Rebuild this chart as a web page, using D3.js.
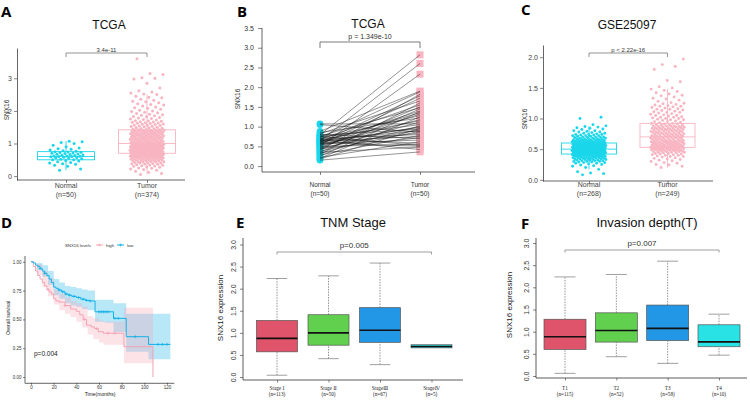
<!DOCTYPE html>
<html><head><meta charset="utf-8">
<script src="https://cdn.jsdelivr.net/npm/d3@7/dist/d3.min.js"></script>
<style>body{margin:0;background:#fff}svg{display:block}</style>
</head><body><svg id="chart" width="750" height="400"></svg>
<script>
// ---------------- DATA ----------------
const groupCats = ["Normal","Tumor"];
const aCounts = ["(n=50)","(n=374)"];
const aTicks = [0,1,2,3];
const aNormal = [.18,.22,.3,.33,.36,.38,.4,.42,.44,.46,.48,.5,.5,.52,.53,.55,.56,.57,.58,.59,.6,.6,.61,.62,.62,.63,.64,.65,.66,.67,.68,.69,.7,.71,.72,.73,.74,.75,.76,.78,.8,.82,.84,.86,.9,.95,1.0,1.03,1.05,1.07];
const aTumor = [.05,.08,.12,.15,.18,.2,.22,.24,.25,.27,.28,.3,.31,.32,.33,.34,.35,.36,.37,.38,.39,.4,.4,.41,.42,.43,.43,.44,.45,.45,.46,.47,.47,.48,.48,.49,.5,.5,.51,.51,.52,.52,.53,.53,.54,.54,.55,.55,.56,.56,.57,.57,.58,.58,.58,.59,.59,.6,.6,.6,.61,.61,.62,.62,.62,.63,.63,.63,.64,.64,.64,.65,.65,.65,.66,.66,.66,.67,.67,.67,.68,.68,.68,.68,.69,.69,.69,.69,.7,.7,
.7,.71,.71,.72,.72,.72,.73,.73,.73,.74,.74,.74,.75,.75,.75,.76,.76,.76,.77,.77,.77,.78,.78,.78,.79,.79,.79,.8,.8,.8,.81,.81,.81,.82,.82,.82,.83,.83,.83,.84,.84,.84,.85,.85,.85,.86,.86,.86,.87,.87,.87,.88,.88,.88,.89,.89,.89,.9,.9,.9,.91,.91,.91,.92,.92,.92,.93,.93,.93,.94,.94,.94,.95,.95,.95,.96,.96,.96,.97,.97,.97,.98,.98,.98,.99,.99,.99,1,1,1,
1.01,1.01,1.02,1.02,1.03,1.03,1.04,1.04,1.05,1.05,1.06,1.06,1.07,1.07,1.08,1.08,1.09,1.09,1.1,1.1,1.11,1.11,1.12,1.12,1.13,1.13,1.14,1.14,1.15,1.15,1.16,1.16,1.17,1.17,1.18,1.18,1.19,1.19,1.2,1.2,1.21,1.21,1.22,1.22,1.23,1.23,1.24,1.24,1.25,1.25,1.26,1.26,1.27,1.27,1.28,1.28,1.29,1.29,1.3,1.3,1.31,1.31,1.32,1.32,1.33,1.33,1.34,1.34,1.35,1.35,1.36,1.36,1.37,1.37,1.38,1.38,1.39,1.39,1.4,1.4,1.41,1.41,1.42,1.42,
1.43,1.44,1.45,1.46,1.47,1.48,1.49,1.5,1.51,1.52,1.53,1.54,1.55,1.56,1.57,1.58,1.59,1.6,1.61,1.62,1.63,1.64,1.65,1.66,1.67,1.68,1.69,1.7,1.72,1.74,1.75,1.77,1.78,1.8,1.82,1.83,1.85,1.87,1.88,1.9,1.92,1.94,1.96,1.98,2.0,2.02,2.05,2.08,2.1,2.12,2.15,2.18,2.2,2.22,2.25,2.28,2.3,2.33,2.36,2.4,2.42,2.45,2.5,2.52,2.55,2.58,2.62,2.7,2.85,2.98,3.0,3.02,3.12,3.15,3.6];
// box stats: [lower whisker, Q1, median, Q3, upper whisker]
const aStats = [[.18,.5,.6,.75,1.07],[.05,.7,1.0,1.42,2.5]];

const bCounts = ["(n=50)","(n=50)"];
const bTicks = [0,0.5,1,1.5,2,2.5,3,3.5];
const bNormal = [.79,.64,.50,.88,.72,.40,.60,.55,.82,.30,.68,.45,.76,.35,.58,.25,.62,.48,.70,.20,.85,.52,.66,.42,1.07,.74,.32,.56,.61,.18,.78,.46,.65,.38,1.05,.54,.70,.28,.63,.44,.80,.57,.22,.68,.50,.75,.60,.35,.66,.15];
const bTumor  = [2.82,2.60,2.33,1.90,1.88,1.82,1.78,1.72,1.65,1.60,1.55,1.50,1.48,1.45,1.40,1.38,1.35,1.32,1.28,1.25,1.22,1.18,1.15,1.12,1.07,1.05,1.02,1.00,.98,.96,.94,.92,.90,.88,.86,.84,.80,.78,.75,.72,.70,.66,.62,.58,.55,.52,.50,.48,.42,.36];

const cCounts = ["(n=268)","(n=249)"];
const cTicks = [0,0.5,1,1.5,2];
const cNormal = [.08,.1,.11,.13,.17,.2,.22,.23,.24,.25,.26,.27,.27,.28,.28,.29,.29,.3,.3,.3,.31,.31,.31,.32,.32,.32,.33,.33,.33,.34,.34,.34,.34,.35,.35,.35,.35,.36,.36,.36,.36,.37,.37,.37,.37,.38,.38,.38,.38,.38,.39,.39,.39,.39,.39,.4,.4,.4,.4,.4,.41,.41,.41,.41,.41,.42,.42,
.42,.42,.43,.43,.43,.43,.43,.43,.43,.43,.44,.44,.44,.44,.44,.44,.44,.44,.45,.45,.45,.45,.45,.45,.45,.45,.46,.46,.46,.46,.46,.46,.46,.46,.47,.47,.47,.47,.47,.47,.47,.47,.48,.48,.48,.48,.48,.48,.48,.48,.49,.49,.49,.49,.49,.49,.49,.49,.5,.5,.5,.5,.5,
.51,.51,.51,.51,.51,.51,.51,.52,.52,.52,.52,.52,.52,.52,.53,.53,.53,.53,.53,.53,.53,.54,.54,.54,.54,.54,.54,.54,.55,.55,.55,.55,.55,.55,.55,.56,.56,.56,.56,.56,.56,.56,.57,.57,.57,.57,.57,.57,.57,.58,.58,.58,.58,.58,.58,.59,.59,.59,.59,.59,.59,.6,.6,.6,.6,.6,.6,
.61,.61,.61,.61,.61,.62,.62,.62,.62,.62,.63,.63,.63,.63,.64,.64,.64,.64,.65,.65,.65,.65,.66,.66,.66,.66,.67,.67,.67,.68,.68,.68,.69,.69,.69,.7,.7,.7,.71,.71,.72,.72,.72,.73,.73,.74,.74,.74,.75,.76,.76,.77,.78,.78,.79,.8,.8,.82,.83,.84,.85,.86,.87,.88,.9,1.0,1.02];
const cTumor = [.2,.22,.24,.25,.27,.28,.3,.31,.32,.33,.34,.35,.36,.37,.38,.38,.39,.4,.4,.41,.41,.42,.42,.43,.43,.44,.44,.45,.45,.45,.46,.46,.46,.47,.47,.47,.48,.48,.48,.48,.49,.49,.49,.49,.5,.5,.5,.5,.51,.51,.51,.51,.52,.52,.52,.52,.53,.53,.53,.53,.53,.53,
.54,.54,.54,.54,.55,.55,.55,.55,.56,.56,.56,.56,.57,.57,.57,.57,.58,.58,.58,.58,.59,.59,.59,.59,.6,.6,.6,.6,.61,.61,.61,.61,.62,.62,.62,.62,.63,.63,.63,.63,.64,.64,.64,.65,.65,.65,.66,.66,.66,.67,.67,.67,.68,.68,.68,.69,.69,.69,.7,.7,.7,.7,
.71,.71,.71,.72,.72,.72,.73,.73,.73,.74,.74,.74,.75,.75,.75,.76,.76,.76,.77,.77,.77,.78,.78,.78,.79,.79,.79,.8,.8,.8,.81,.81,.81,.82,.82,.82,.83,.83,.83,.84,.84,.84,.85,.85,.85,.86,.86,.86,.87,.87,.87,.88,.88,.88,.89,.89,.9,.9,.91,.91,.92,.92,
.93,.94,.95,.95,.96,.97,.98,.98,.99,1,1,1.01,1.02,1.02,1.03,1.04,1.05,1.05,1.06,1.07,1.08,1.09,1.1,1.1,1.11,1.12,1.13,1.14,1.15,1.15,1.16,1.17,1.18,1.19,1.2,1.2,1.21,1.22,1.23,1.24,1.25,1.26,1.28,1.3,1.32,1.33,1.35,1.37,1.38,1.4,1.42,1.44,1.46,1.48,1.5,1.52,1.6,1.62,1.8,1.85,1.88,1.97];
const cStats = [[.17,.42,.5,.6,.87],[.2,.53,.7,.92,1.48]];

// Kaplan-Meier (D)
const dGroups = ["high","low"];
const dTimeTicks = [0,20,40,60,80,100,120];
const dSurvTicks = [0,0.25,0.5,0.75,1];
const kmHighT = [0,2,4,6,8,10,12,14,16,18,20,22,25,30,35,40,43,46,49,53,56,59.4,63.8,82,107.6,107.6];
const kmHighS = [1,.96,.92,.88,.85,.82,.79,.76,.74,.72,.68,.66,.65,.62,.59,.57,.54,.50,.45,.435,.42,.393,.38,.263,0,0];
const kmLowT = [0,2,4,6,8,10,12,14,16,18,20,22,24,27,30,33,36,40,44,48,52,56.5,72.8,84,103.7,123];
const kmLowS = [1,.99,.97,.96,.94,.92,.90,.88,.85,.82,.78,.77,.755,.74,.72,.71,.70,.69,.675,.665,.66,.566,.509,.35,.283,.283];
const bandHighT = [0,5,10,15,20,25,30,35,40,45,50,55,60,64,82,107.6];
const bandHighLo = [1,.88,.78,.70,.63,.58,.55,.52,.48,.43,.37,.33,.30,.28,.12,.12];
const bandHighHi = [1,.98,.92,.86,.76,.72,.69,.66,.64,.61,.53,.51,.49,.48,.60,.60];
const bandLowT = [0,5,10,15,20,25,30,35,40,45,50,56.5,65,72.8,84,103.7,123];
const bandLowLo = [1,.93,.87,.80,.71,.68,.64,.62,.61,.59,.58,.48,.47,.39,.22,.155,.155];
const bandLowHi = [1,.99,.97,.92,.85,.82,.79,.78,.77,.76,.75,.67,.67,.64,.55,.55,.55];
const censorLow = [8,12,25,28,31,34,38,42,46,49,52,60,62,64,66,68,74,77,92,112,116,120];
const censorHigh = [15,30,47,58,68,74];

// TNM stage (E)
const eCats = ["Stage Ⅰ","Stage Ⅱ","StageⅢ","StageⅣ"];
const eCounts = ["(n=113)","(n=50)","(n=67)","(n=5)"];
const eStats = [[.04,.57,.875,1.28,2.23],[.415,.72,1.0,1.41,2.29],[.28,.785,1.06,1.57,2.58],[.66,.66,.69,.73,.73]];
// Invasion depth (F)
const fCats = ["T1","T2","T3","T4"];
const fCounts = ["(n=115)","(n=52)","(n=58)","(n=10)"];
const fStats = [[.06,.6,.885,1.28,2.235],[.435,.765,1.027,1.425,2.29],[.285,.8,1.074,1.6,2.59],[.47,.66,.77,1.155,1.395]];
const efTicks = [0,0.5,1,1.5,2,2.5,3];

// ---------------- DRAWING ----------------
const svg = d3.select("#chart");
const FONT = "'Liberation Sans', Arial, sans-serif";
const CYAN = "#1ad6ea", PINK = "#f8b4c0";
const BOXCOLS = ["#DF536B","#61D04F","#2297E6","#28E2E5"];

function label(g, x, y, s, size, opt = {}) {
  const t = g.append("text").attr("x", x).attr("y", y).text(s)
    .attr("font-size", size).attr("font-family", opt.family || FONT)
    .attr("fill", opt.fill || "#222").attr("text-anchor", opt.anchor || "middle");
  if (opt.weight) t.attr("font-weight", opt.weight);
  if (opt.rotate) t.attr("transform", `rotate(${opt.rotate},${x},${y})`);
  return t;
}
function styleAxis(a, size, color) {
  a.selectAll("text").attr("font-size", size).attr("font-family", FONT).attr("fill", color);
  a.selectAll(".tick line").attr("stroke", "#333").attr("stroke-width", 0.6);
  a.select(".domain").attr("stroke", "#222").attr("stroke-width", 0.7);
}
function bracket(g, x1, x2, y, drop, text, size, ty, col) {
  g.append("path").attr("d", `M${x1},${y + drop}V${y}H${x2}V${y + drop}`)
    .attr("fill", "none").attr("stroke", col || "#555").attr("stroke-width", 0.7);
  label(g, (x1 + x2) / 2, ty, text, size, {fill: "#333"});
}
const GOLD = 0.6180339887;
const jit = i => ((i * GOLD + 0.31) % 1) * 2 - 1;

// panel letters
[["A",1,17],["B",237,17],["C",521,15],["D",1,228],["E",236,228],["F",521,229]].forEach(([s,x,y]) =>
  label(svg, x, y, s, 15, {anchor: "start", weight: "bold", fill: "#000", family: "'Open Sans', 'Liberation Sans', sans-serif"}));

// ---- jitter boxplot panels (A, C)
function jitterPanel(p) {
  const g = svg.append("g");
  const x = d3.scalePoint().domain(groupCats).range(p.xr);
  const y = d3.scaleLinear().domain(p.yd).range(p.yr);
  label(g, p.titleX, p.titleY, p.title, 12, {fill: "#111"});
  const ya = g.append("g").attr("transform", `translate(${p.axX},0)`)
    .call(d3.axisLeft(y).tickValues(p.ticks).tickFormat(p.fmt).tickSize(3).tickPadding(2).tickSizeOuter(0));
  styleAxis(ya, 7, "#444");
  g.append("line").attr("x1", p.axX).attr("x2", p.axX2).attr("y1", p.yr[0]).attr("y2", p.yr[0])
    .attr("stroke", "#222").attr("stroke-width", 0.7);
  const xa = g.append("g").attr("transform", `translate(0,${p.yr[0]})`)
    .call(d3.axisBottom(x).tickSize(3).tickFormat(""));
  xa.select(".domain").remove();
  xa.selectAll("line").attr("stroke", "#333").attr("stroke-width", 0.6);
  groupCats.forEach((c, i) => {
    label(g, x(c), p.labY[0], c, 7, {fill: "#444"});
    label(g, x(c), p.labY[1], p.counts[i], 7, {fill: "#444"});
  });
  label(g, p.ylabX, p.ylabY, "SNX16", 6.5, {fill: "#333", rotate: -90});
  p.stats.forEach((s, i) => {
    const cx = x(groupCats[i]), w = p.boxW, col = p.colors[i];
    const bg = g.append("g").attr("stroke", col).attr("stroke-width", 0.9).attr("fill", "none");
    bg.append("line").attr("x1", cx).attr("x2", cx).attr("y1", y(s[0])).attr("y2", y(s[1]));
    bg.append("line").attr("x1", cx).attr("x2", cx).attr("y1", y(s[3])).attr("y2", y(s[4]));
    bg.append("rect").attr("x", cx - w / 2).attr("width", w).attr("y", y(s[3])).attr("height", y(s[1]) - y(s[3]));
    bg.append("line").attr("x1", cx - w / 2).attr("x2", cx + w / 2).attr("y1", y(s[2])).attr("y2", y(s[2]));
  });
  p.values.forEach((vals, i) => {
    g.append("g").selectAll("circle").data(vals).join("circle")
      .attr("cx", (d, j) => x(groupCats[i]) + jit(j) * p.jw)
      .attr("cy", d => y(d)).attr("r", p.r).attr("fill", p.colors[i]);
  });
  bracket(g, x(groupCats[0]), x(groupCats[1]), p.brY, 4, p.pText, 6, p.brY - 1.5, "#666");
}

jitterPanel({title: "TCGA", titleX: 109, titleY: 29, xr: [66, 147], yd: [-0.12, 3.93], yr: [180, 48],
  axX: 17, axX2: 185, ticks: aTicks, fmt: d3.format("d"), labY: [188, 196.5], counts: aCounts,
  ylabX: 9, ylabY: 110, stats: aStats, values: [aNormal, aTumor], colors: [CYAN, PINK],
  boxW: 57, jw: 17, r: 1.5, brY: 53, pText: "3.4e-11"});

jitterPanel({title: "GSE25097", titleX: 627, titleY: 29, xr: [589, 667.5], yd: [-0.02, 2.2], yr: [181, 45],
  axX: 543, axX2: 713, ticks: cTicks, fmt: d3.format(".1f"), labY: [187, 195.5], counts: cCounts,
  ylabX: 527, ylabY: 119, stats: cStats, values: [cNormal, cTumor], colors: [CYAN, PINK],
  boxW: 55, jw: 17, r: 1.45, brY: 53, pText: "p < 2.22e-16"});

// ---- B paired
(function () {
  const g = svg.append("g");
  const x = d3.scalePoint().domain(groupCats).range([320, 420]);
  const y = d3.scaleLinear().domain([-0.15, 3.5]).range([172, 28]);
  label(g, 368, 28, "TCGA", 12, {fill: "#111"});
  const ya = g.append("g").attr("transform", "translate(262,0)")
    .call(d3.axisLeft(y).tickValues(bTicks).tickFormat(d3.format(".1f")).tickSize(4).tickPadding(4).tickSizeOuter(0));
  styleAxis(ya, 7, "#333");
  ya.select(".domain").attr("d", `M0,${y(3.5)}V${y(-0.15)}`);
  g.append("line").attr("x1", 262).attr("x2", 475).attr("y1", 172).attr("y2", 172).attr("stroke", "#222").attr("stroke-width", 0.7);
  const xa = g.append("g").attr("transform", "translate(0,172)").call(d3.axisBottom(x).tickSize(3).tickFormat(""));
  xa.select(".domain").remove(); xa.selectAll("line").attr("stroke", "#333").attr("stroke-width", 0.6);
  groupCats.forEach((c, i) => {
    label(g, x(c), 187, c, 6.5, {fill: "#333"});
    label(g, x(c), 195.5, bCounts[i], 6.5, {fill: "#333"});
  });
  label(g, 240, 99, "SNX16", 6.5, {fill: "#333", rotate: -90});
  g.append("g").selectAll("circle").data(bNormal).join("circle")
    .attr("cx", x("Normal")).attr("cy", d => y(d)).attr("r", 3.3).attr("fill", CYAN);
  g.append("g").selectAll("rect").data(bTumor).join("rect")
    .attr("x", x("Tumor") - 3.5).attr("y", d => y(d) - 3.5).attr("width", 7).attr("height", 7).attr("fill", PINK);
  g.append("g").selectAll("line").data(bNormal).join("line")
    .attr("x1", x("Normal")).attr("x2", x("Tumor"))
    .attr("y1", d => y(d)).attr("y2", (d, i) => y(bTumor[i]))
    .attr("stroke", "#111").attr("stroke-width", 0.45);
  bracket(g, x("Normal"), x("Tumor"), 42, 6, "p = 1.349e-10", 7, 38.5, "#444");
})();

// ---- D survival
(function () {
  const g = svg.append("g");
  const x = d3.scaleLinear().domain([-6, 126]).range([24.2, 173.8]);
  const y = d3.scaleLinear().domain([-0.05, 1.05]).range([382.8, 256]);
  const HI = "#f4a3b3", LO = "#14b1e7";
  const area = (T, L, H) => d3.area().curve(d3.curveStepAfter).x((d, i) => x(T[i])).y0((d, i) => y(L[i])).y1((d, i) => y(H[i]))(T);
  g.append("path").attr("d", area(bandLowT, bandLowLo, bandLowHi)).attr("fill", LO).attr("opacity", 0.3);
  g.append("path").attr("d", area(bandHighT, bandHighLo, bandHighHi)).attr("fill", HI).attr("opacity", 0.3);
  const line = (T, S) => d3.line().curve(d3.curveStepAfter).x((d, i) => x(T[i])).y((d, i) => y(S[i]))(T);
  g.append("path").attr("d", line(kmHighT, kmHighS)).attr("fill", "none").attr("stroke", HI).attr("stroke-width", 1);
  g.append("path").attr("d", line(kmLowT, kmLowS)).attr("fill", "none").attr("stroke", LO).attr("stroke-width", 1);
  const stepVal = (T, S, t) => S[d3.bisectRight(T, t) - 1];
  const cross = (t, s, col) => g.append("path").attr("d", `M${x(t) - 1.5},${y(s)}h3M${x(t)},${y(s) - 1.5}v3`).attr("stroke", col).attr("stroke-width", 0.7);
  censorLow.forEach(t => cross(t, stepVal(kmLowT, kmLowS, t), LO));
  censorHigh.forEach(t => cross(t, stepVal(kmHighT, kmHighS, t), HI));
  const ya = g.append("g").attr("transform", "translate(25,0)")
    .call(d3.axisLeft(y).tickValues(dSurvTicks).tickFormat(d3.format(".2f")).tickSize(2).tickPadding(1.5).tickSizeOuter(0));
  styleAxis(ya, 4.5, "#333");
  const xa = g.append("g").attr("transform", "translate(0,382.8)")
    .call(d3.axisBottom(x).tickValues(dTimeTicks).tickSize(2).tickPadding(1.5).tickSizeOuter(0));
  styleAxis(xa, 4.5, "#333");
  ya.select(".domain").attr("d", "M0,382.8V256");
  label(g, 100, 396, "Time(months)", 5, {fill: "#222"});
  label(g, 10, 318, "Overall survival", 5, {fill: "#222", rotate: -90});
  label(g, 34, 356, "p=0.004", 6.5, {anchor: "start", fill: "#222"});
  label(g, 65, 246.5, "SNX16 levels", 4.3, {anchor: "start", fill: "#333"});
  const lg = [[dGroups[0], 96, HI], [dGroups[1], 117, LO]];
  lg.forEach(([nm, lx, col], i) => {
    g.append("line").attr("x1", lx).attr("x2", lx + 7).attr("y1", 245).attr("y2", 245).attr("stroke", col).attr("stroke-width", 1);
    g.append("path").attr("d", `M${lx + 2},245h3M${lx + 3.5},243.5v3`).attr("stroke", col).attr("stroke-width", 0.7);
    label(g, lx + 10, 246.5, nm, 4.3, {anchor: "start", fill: "#333"});
  });
})();

// ---- E/F base-R boxplots
function basePanel(p) {
  const g = svg.append("g");
  const x = d3.scalePoint().domain(p.cats).range(p.xr);
  const y = d3.scaleLinear().domain([0, 3]).range(p.yr);
  label(g, p.titleX, p.titleY, p.title, 13, {fill: "#111"});
  g.append("path").attr("d", `M${p.axX},${p.top}V${p.base}H${p.right}`).attr("fill", "none").attr("stroke", "#333").attr("stroke-width", 0.8);
  const ya = g.append("g").attr("transform", `translate(${p.axX},0)`)
    .call(d3.axisLeft(y).tickValues(efTicks).tickFormat(d3.format(".1f")).tickSize(3).tickSizeOuter(0));
  styleAxis(ya, 7, "#333");
  ya.select(".domain").remove();
  ya.selectAll("text").attr("transform", "rotate(-90)").attr("x", 0).attr("y", -7.5).attr("dy", 0).attr("text-anchor", "middle");
  const xa = g.append("g").attr("transform", `translate(0,${p.base})`).call(d3.axisBottom(x).tickSize(2.5).tickFormat(""));
  xa.select(".domain").remove(); xa.selectAll("line").attr("stroke", "#333").attr("stroke-width", 0.6);
  p.cats.forEach((c, i) => {
    label(g, x(c), 389.5, c, 5.2, {fill: "#222", family: "'Liberation Serif', 'DejaVu Serif', serif"});
    label(g, x(c), 396, p.counts[i], 5.2, {fill: "#222", family: "'Liberation Serif', 'DejaVu Serif', serif"});
  });
  label(g, p.ylabX, p.ylabY, "SNX16 expression", 8, {fill: "#222", rotate: -90});
  p.stats.forEach((s, i) => {
    const cx = x(p.cats[i]), w = p.boxW;
    if (s[0] < s[1]) {
      g.append("line").attr("x1", cx).attr("x2", cx).attr("y1", y(s[0])).attr("y2", y(s[1])).attr("stroke", "#666").attr("stroke-width", 0.7).attr("stroke-dasharray", "1.5,1.2");
      g.append("line").attr("x1", cx - w / 4).attr("x2", cx + w / 4).attr("y1", y(s[0])).attr("y2", y(s[0])).attr("stroke", "#888").attr("stroke-width", 0.8);
    }
    if (s[4] > s[3]) {
      g.append("line").attr("x1", cx).attr("x2", cx).attr("y1", y(s[3])).attr("y2", y(s[4])).attr("stroke", "#666").attr("stroke-width", 0.7).attr("stroke-dasharray", "1.5,1.2");
      g.append("line").attr("x1", cx - w / 4).attr("x2", cx + w / 4).attr("y1", y(s[4])).attr("y2", y(s[4])).attr("stroke", "#888").attr("stroke-width", 0.8);
    }
    g.append("rect").attr("x", cx - w / 2).attr("width", w).attr("y", y(s[3])).attr("height", y(s[1]) - y(s[3]))
      .attr("fill", BOXCOLS[i]).attr("stroke", "#555").attr("stroke-width", 0.7);
    g.append("line").attr("x1", cx - w / 2).attr("x2", cx + w / 2).attr("y1", y(s[2])).attr("y2", y(s[2])).attr("stroke", "#111").attr("stroke-width", 1.6);
  });
  bracket(g, x(p.cats[0]), x(p.cats[p.cats.length - 1]), p.brY, 2.5, p.pText, 8, p.brY - 4, "#777");
}
basePanel({title: "TNM Stage", titleX: 353, titleY: 227, cats: eCats, counts: eCounts, stats: eStats,
  xr: [277, 431.5], yr: [377, 244.5], axX: 243, top: 238, base: 380, right: 463, boxW: 41,
  ylabX: 223, ylabY: 308, brY: 252, pText: "p=0.005"});
basePanel({title: "Invasion depth(T)", titleX: 647, titleY: 227, cats: fCats, counts: fCounts, stats: fStats,
  xr: [565, 719], yr: [376, 243], axX: 536, top: 238, base: 378, right: 747, boxW: 42,
  ylabX: 512, ylabY: 305, brY: 250, pText: "p=0.007"});
</script>
</body></html>
